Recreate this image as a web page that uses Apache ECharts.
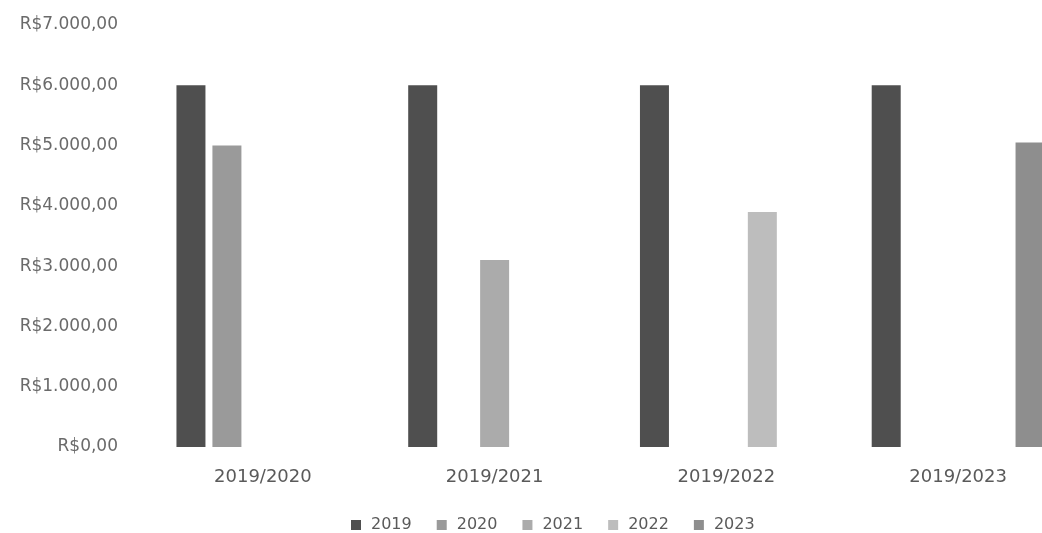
<!DOCTYPE html>
<html>
<head>
<meta charset="utf-8">
<script src="https://cdn.jsdelivr.net/npm/echarts@6/dist/echarts.min.js"></script>
<style>html,body{margin:0;padding:0;background:#fff;overflow:hidden;width:1042px;height:533px;}#c{width:1074px;height:533px;}</style>
</head>
<body>
<div id="c"></div>
<script>
const categories = ['2019/2020', '2019/2021', '2019/2022', '2019/2023'];
const seriesNames = ['2019', '2020', '2021', '2022', '2023'];
const v2019 = [6000, 6000, 6000, 6000];
const v2020 = [5000, null, null, null];
const v2021 = [null, 3100, null, null];
const v2022 = [null, null, 3900, null];
const v2023 = [null, null, null, 5050];
const yTicks = [0, 1000, 2000, 3000, 4000, 5000, 6000, 7000];

const colors = ['#4f4f4f', '#9a9a9a', '#ababab', '#bdbdbd', '#8e8e8e'];
const values = [v2019, v2020, v2021, v2022, v2023];

function brl(v) {
  const intPart = Math.floor(v).toString().replace(/\B(?=(\d{3})+(?!\d))/g, '.');
  return 'R$' + intPart + ',00';
}

const chart = echarts.init(document.getElementById('c'));
chart.setOption({
  animation: false,
  backgroundColor: '#fff',
  textStyle: { fontFamily: '"DejaVu Sans", sans-serif' },
  grid: { left: 147, top: 25, right: 0, bottom: 86 },
  legend: {
    data: seriesNames,
    top: 512,
    left: 346,
    itemWidth: 10,
    itemHeight: 10,
    itemGap: 25,
    icon: 'rect',
    textStyle: { color: '#5a5a5a', fontSize: 16, padding: [0, 0, 0, 5] }
  },
  xAxis: {
    type: 'category',
    data: categories,
    axisLine: { show: false },
    axisTick: { show: false },
    axisLabel: { color: '#5a5a5a', fontSize: 18, margin: 21 }
  },
  yAxis: {
    type: 'value',
    min: yTicks[0],
    max: yTicks[yTicks.length - 1],
    interval: 1000,
    splitLine: { show: false },
    axisLine: { show: false },
    axisTick: { show: false },
    axisLabel: { color: '#6a6a6a', fontSize: 17, margin: 29, formatter: brl }
  },
  series: seriesNames.map((n, i) => ({
    name: n,
    type: 'bar',
    data: values[i],
    barWidth: 29,
    barGap: '24%',
    itemStyle: { color: colors[i] }
  }))
});
</script>
</body>
</html>
